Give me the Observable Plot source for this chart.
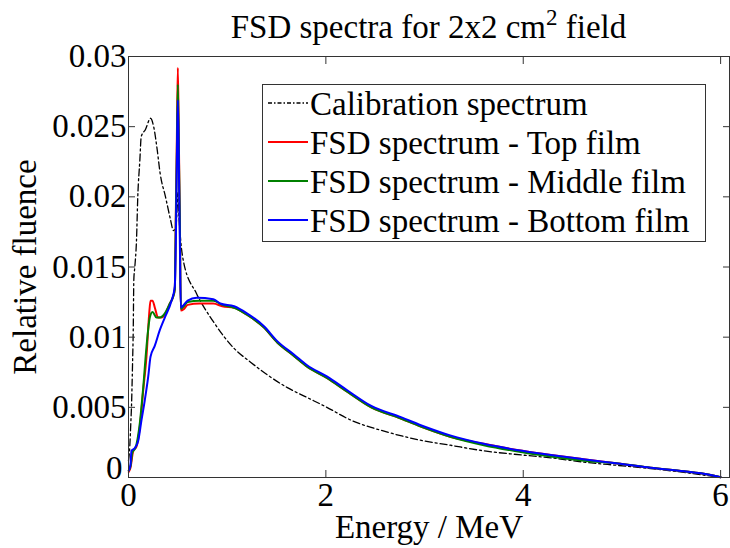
<!DOCTYPE html>
<html>
<head>
<meta charset="utf-8">
<script src="https://cdn.jsdelivr.net/npm/d3@7"></script>
<script src="https://cdn.jsdelivr.net/npm/@observablehq/plot@0.6"></script>
<style>
  html, body { margin: 0; padding: 0; background: #fff; }
  svg { display: block; }
</style>
</head>
<body>
<script>
// ---- Data ----
const seriesNames = ["Calibration spectrum", "FSD spectrum - Top film", "FSD spectrum - Middle film", "FSD spectrum - Bottom film"];

const calE = [0, 0.013, 0.023, 0.03, 0.041, 0.048, 0.054, 0.064, 0.081, 0.094, 0.115, 0.129, 0.172, 0.223, 0.255, 0.29, 0.32, 0.375, 0.425, 0.455, 0.48, 0.49, 0.50, 0.51, 0.53, 0.56, 0.69, 0.86, 1.07, 1.24, 1.41, 1.61, 1.81, 2.01, 2.25, 2.59, 2.93, 3.26, 3.60, 3.99, 4.28, 4.61, 4.96, 5.29, 5.63, 6.0];
const calV = [0.0012, 0.0022, 0.0038, 0.005, 0.0081, 0.0105, 0.0141, 0.015, 0.0169, 0.020, 0.0226, 0.0243, 0.0248, 0.0256, 0.025, 0.0234, 0.0217, 0.020, 0.0184, 0.0176, 0.0178, 0.0188, 0.0203, 0.0188, 0.0168, 0.0153, 0.0131, 0.0111, 0.0092, 0.0082, 0.0073, 0.0064, 0.0057, 0.0050, 0.0041, 0.0033, 0.0027, 0.0023, 0.0019, 0.0016, 0.0014, 0.0011, 0.00086, 0.00064, 0.00036, 0.0];

const topFilmE = [0.003, 0.02, 0.048, 0.081, 0.115, 0.149, 0.182, 0.21, 0.223, 0.243, 0.267, 0.30, 0.334, 0.368, 0.419, 0.453, 0.469, 0.48, 0.49, 0.50, 0.51, 0.52, 0.53, 0.56, 0.60, 0.72, 0.86, 0.95, 1.07, 1.20, 1.37, 1.51, 1.67, 1.81, 2.01, 2.22, 2.46, 2.76, 3.01, 3.26, 3.60, 3.99, 4.28, 4.61, 4.96, 5.29, 5.63, 5.80, 5.97, 6.0];
const topFilmV = [0.0004, 0.0007, 0.0019, 0.0022, 0.0036, 0.0062, 0.0086, 0.0117, 0.0126, 0.0126, 0.0121, 0.0114, 0.0114, 0.0116, 0.0124, 0.0129, 0.0134, 0.019, 0.0241, 0.0292, 0.0241, 0.0185, 0.0119, 0.0120, 0.0123, 0.0124, 0.0124, 0.0122, 0.0121, 0.0116, 0.0107, 0.0096, 0.0087, 0.0079, 0.0071, 0.0061, 0.0050, 0.0042, 0.0035, 0.0029, 0.0024, 0.0019, 0.0016, 0.0013, 0.0010, 0.0007, 0.00045, 0.0003, 0.00007, 0.00002];

const midFilmE = [0.003, 0.02, 0.04, 0.07, 0.115, 0.149, 0.182, 0.216, 0.243, 0.284, 0.317, 0.368, 0.419, 0.453, 0.469, 0.48, 0.49, 0.50, 0.51, 0.52, 0.53, 0.56, 0.60, 0.72, 0.86, 0.95, 1.07, 1.20, 1.37, 1.51, 1.67, 1.81, 2.01, 2.22, 2.46, 2.76, 3.01, 3.26, 3.60, 3.99, 4.28, 4.61, 4.96, 5.29, 5.63, 5.80, 5.97, 6.0];
const midFilmV = [0.0005, 0.0008, 0.0018, 0.0021, 0.0039, 0.0064, 0.0093, 0.0114, 0.0118, 0.0114, 0.0114, 0.0117, 0.0124, 0.0129, 0.0134, 0.0185, 0.0233, 0.028, 0.0233, 0.0185, 0.012, 0.0122, 0.0125, 0.0126, 0.0126, 0.0123, 0.0121, 0.0116, 0.0107, 0.0096, 0.0087, 0.0079, 0.0071, 0.0061, 0.0050, 0.0042, 0.0035, 0.0029, 0.0023, 0.0018, 0.0015, 0.0012, 0.0010, 0.0007, 0.00045, 0.0003, 0.00007, 0.00002];

const botFilmE = [0.003, 0.02, 0.03, 0.064, 0.098, 0.132, 0.165, 0.2, 0.223, 0.267, 0.317, 0.368, 0.436, 0.469, 0.48, 0.49, 0.50, 0.51, 0.52, 0.53, 0.56, 0.60, 0.69, 0.86, 0.93, 1.07, 1.20, 1.37, 1.51, 1.67, 1.81, 2.01, 2.22, 2.46, 2.76, 3.01, 3.26, 3.60, 3.99, 4.28, 4.61, 4.96, 5.29, 5.63, 5.80, 5.97, 6.0];
const botFilmV = [0.0005, 0.0009, 0.0019, 0.0021, 0.0026, 0.0041, 0.0055, 0.0072, 0.0086, 0.0094, 0.0105, 0.0114, 0.0126, 0.0136, 0.017, 0.0224, 0.0269, 0.0224, 0.017, 0.0121, 0.0123, 0.0126, 0.0128, 0.0127, 0.0124, 0.0122, 0.0117, 0.0108, 0.0097, 0.0088, 0.0080, 0.0072, 0.0062, 0.0051, 0.0043, 0.0036, 0.0030, 0.0024, 0.0019, 0.0016, 0.0013, 0.0010, 0.0007, 0.00045, 0.0003, 0.00007, 0.00002];

const xTicks = [0, 2, 4, 6];
const xTickLabels = ["0", "2", "4", "6"];
const yTicks = [0, 0.005, 0.01, 0.015, 0.02, 0.025, 0.03];
const yTickLabels = ["0", "0.005", "0.01", "0.015", "0.02", "0.025", "0.03"];
const titleMain = "FSD spectra for 2x2 cm";
const titleSup = "2";
const titleEnd = " field";
const xLabel = "Energy / MeV";
const yLabel = "Relative fluence";

// ---- Build tables ----
const toRows = (E, V) => E.map((e, i) => ({e, v: V[i]}));
const calRows = toRows(calE, calV);
const topRows = toRows(topFilmE, topFilmV);
const midRows = toRows(midFilmE, midFilmV);
const botRows = toRows(botFilmE, botFilmV);

const FONT = "'Liberation Serif', 'Times New Roman', serif";
const FS = 33;
const colors = ["#000000", "#ff0000", "#008000", "#0000ff"];
const yFmt = d => yTickLabels[yTicks.indexOf(d)];

const chart = Plot.plot({
  width: 730,
  height: 548,
  marginLeft: 128,
  marginRight: 1,
  marginTop: 56,
  marginBottom: 71,
  style: `font-family: ${FONT}; font-size: ${FS}px; color: #000; background: #fff;`,
  x: {domain: [0, 6.09]},
  y: {domain: [0, 0.03]},
  marks: [
    Plot.line(calRows, {x: "e", y: "v", stroke: colors[0], strokeWidth: 1.3, strokeDasharray: "7,3,2,3", curve: "monotone-x"}),
    Plot.line(topRows, {x: "e", y: "v", stroke: colors[1], strokeWidth: 2, curve: "monotone-x"}),
    Plot.line(midRows, {x: "e", y: "v", stroke: colors[2], strokeWidth: 2, curve: "monotone-x"}),
    Plot.line(botRows, {x: "e", y: "v", stroke: colors[3], strokeWidth: 2, curve: "monotone-x"}),
    Plot.frame({stroke: "#333"}),
    Plot.axisX({ticks: xTicks, anchor: "bottom", tickSize: -7, tickPadding: 12, tickFormat: d => xTickLabels[xTicks.indexOf(d)], label: null, stroke: "#333", fontSize: FS}),
    Plot.axisX({ticks: xTicks, anchor: "top", tickSize: -7, tickFormat: () => "", label: null, stroke: "#333"}),
    Plot.axisY({ticks: yTicks, anchor: "left", tickSize: -7, tickPadding: 9, tickFormat: d => (d === 0 ? "" : yFmt(d)), label: null, stroke: "#333", fontSize: FS}),
    Plot.axisY({ticks: [yTicks[0]], anchor: "left", tickSize: 0, tickPadding: 6, dy: -9, tickFormat: yFmt, label: null, fontSize: FS}),
    Plot.axisY({ticks: yTicks, anchor: "right", tickSize: -7, tickFormat: () => "", label: null, stroke: "#333"}),
    Plot.text([xLabel], {frameAnchor: "bottom", dy: 60, lineAnchor: "bottom", fontSize: FS, fill: "#000"}),
    Plot.text([yLabel], {frameAnchor: "left", textAnchor: "middle", rotate: -90, dx: -103, fontSize: FS, fill: "#000"})
  ]
});
document.body.appendChild(chart);

const svg = d3.select(chart);

// Title with superscript
const t = svg.append("text")
  .attr("x", 428.5).attr("y", 38)
  .style("text-anchor", "middle")
  .style("font-family", FONT)
  .style("font-size", FS + "px")
  .style("fill", "#000");
t.append("tspan").text(titleMain);
t.append("tspan").style("font-size", "23px").attr("dy", -13).text(titleSup);
t.append("tspan").attr("dy", 13).text(titleEnd);

// Legend
const lg = svg.append("g");
lg.append("rect")
  .attr("x", 262.5).attr("y", 84.5).attr("width", 443).attr("height", 157)
  .attr("fill", "#fff").attr("stroke", "#333").attr("stroke-width", 1);
const rowY = [103, 142, 181, 220];
seriesNames.forEach((name, i) => {
  lg.append("line")
    .attr("x1", 268).attr("x2", 308).attr("y1", rowY[i]).attr("y2", rowY[i])
    .attr("stroke", colors[i])
    .attr("stroke-width", i === 0 ? 1.3 : 2)
    .attr("stroke-dasharray", i === 0 ? "4,2,1.5,2" : null);
  lg.append("text")
    .attr("x", 310).attr("y", rowY[i] + 12)
    .style("text-anchor", "start")
    .style("font-family", FONT)
    .style("font-size", FS + "px")
    .style("fill", "#000")
    .text(name);
});
</script>
</body>
</html>
